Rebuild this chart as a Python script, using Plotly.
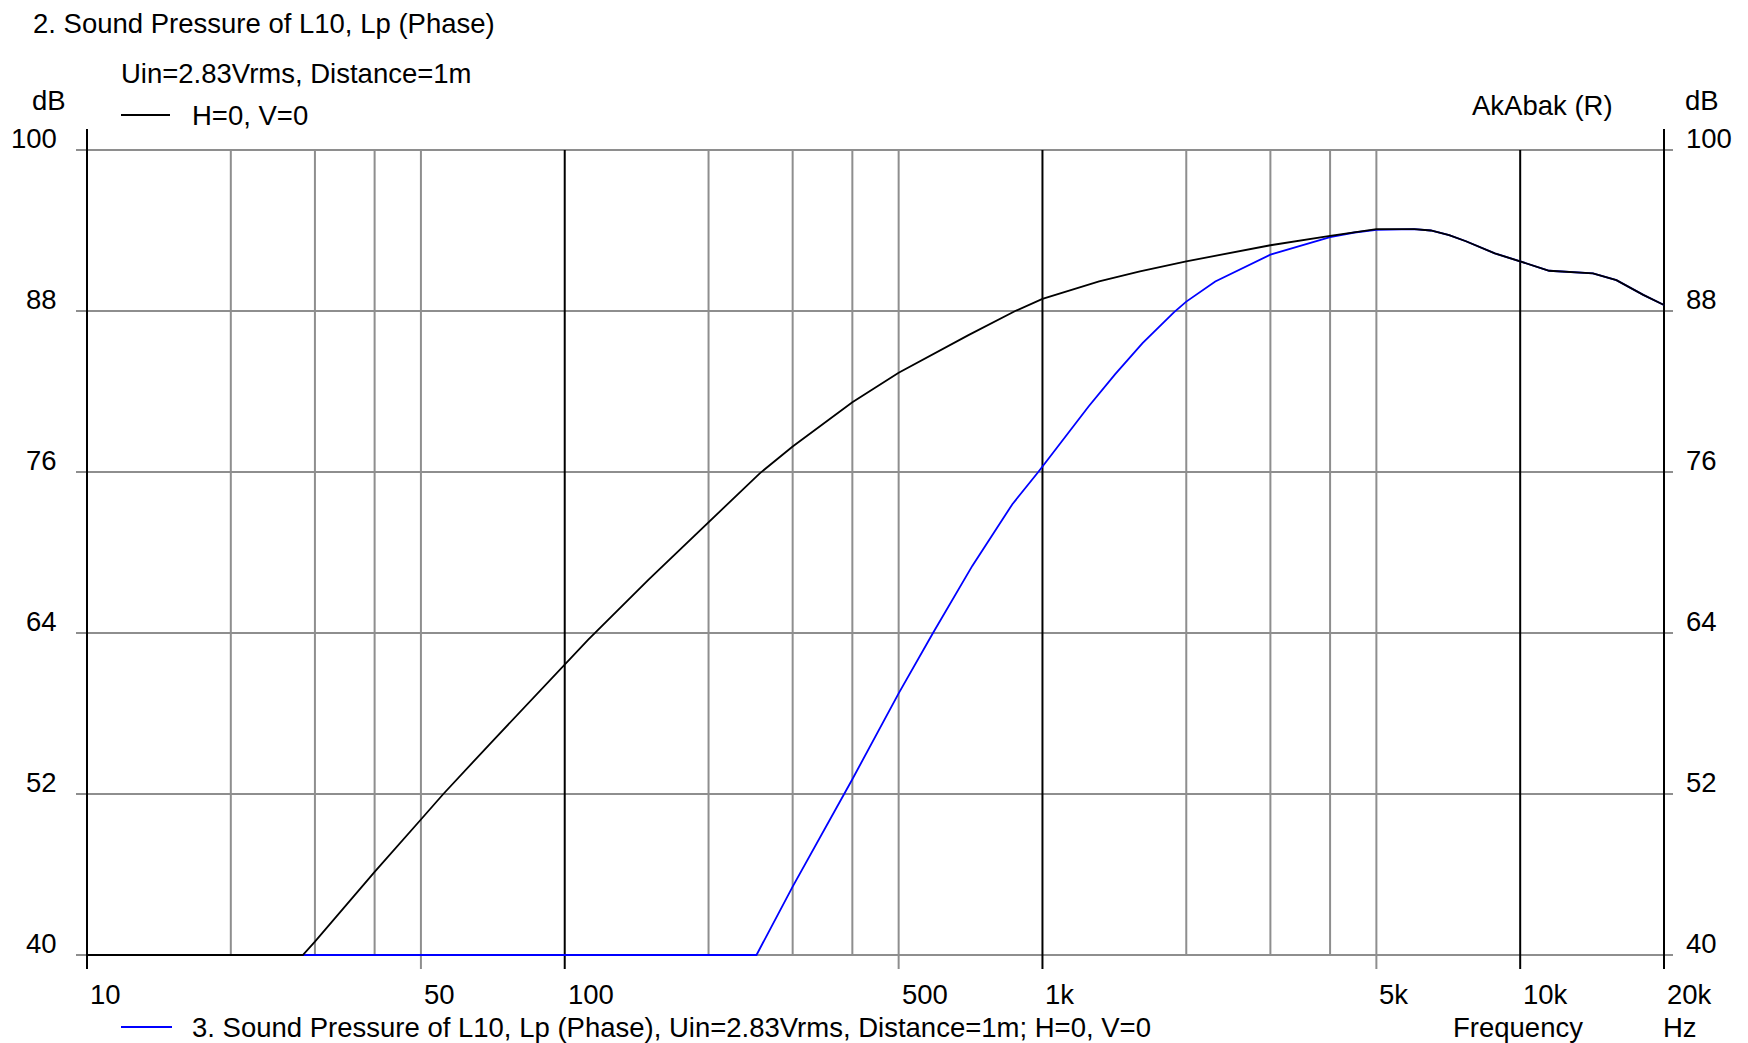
import numpy as np
import plotly.graph_objects as go

# ---- measured response, L10 (frequency in Hz, level in dB) ----
freq_black = [10, 28.3, 30, 40, 50, 55.7, 70, 100, 112, 150, 171.6, 200, 256, 300,
              400, 500, 700, 877, 1000, 1314, 1600, 2000, 3000, 4000, 5000, 6000,
              6500, 7100, 7700, 8850, 10000, 11500, 14200, 15900, 18100, 20000]
spl_black = [40, 40, 41.0, 46.2, 50.1, 52.0, 55.8, 61.6, 63.5, 68.0, 70.0, 72.3, 75.9, 77.9,
             81.2, 83.4, 86.2, 88.0, 88.9, 90.2, 90.95, 91.7, 92.9, 93.6, 94.1, 94.1,
             94.0, 93.65, 93.2, 92.3, 91.7, 91.0, 90.8, 90.3, 89.2, 88.45]

freq_blue = [10, 252, 300, 385, 400, 500, 590, 713, 865, 980, 1100, 1250, 1420, 1620,
             1884, 2000, 2300, 2720, 3000, 4000, 4500, 5000, 6000, 6500, 7100, 7700,
             8850, 10000, 11500, 14200, 15900, 18100, 20000]
spl_blue = [40, 40, 45.1, 52.0, 53.1, 59.5, 64.0, 69.0, 73.6, 76.0, 78.3, 80.9, 83.3, 85.6,
            87.9, 88.7, 90.2, 91.5, 92.2, 93.5, 93.85, 94.05, 94.1, 94.0, 93.65, 93.2,
            92.3, 91.7, 91.0, 90.8, 90.3, 89.2, 88.45]

# ---- axes ----
grid_freqs = [10, 20, 30, 40, 50, 100, 200, 300, 400, 500, 1000, 2000, 3000, 4000,
              5000, 10000, 20000]
decade_freqs = [10, 100, 1000, 10000, 20000]
tick_freqs = [10, 50, 100, 500, 1000, 5000, 10000, 20000]
tick_text = ["10", "50", "100", "500", "1k", "5k", "10k", "20k"]
db_ticks = [40, 52, 64, 76, 88, 100]

F_MIN, F_MAX = 10, 20000
DB_MIN, DB_MAX = 40, 100

W, H = 1748, 1043
# frame of the graph in pixels (10 Hz .. 20 kHz, 40 .. 100 dB)
FX0, FX1, FY0, FY1 = 87, 1664, 150, 955
PAD = 6  # breathing room so edge lines are not clipped

px_per_dec = (FX1 - FX0) / np.log10(F_MAX / F_MIN)
px_per_db = (FY1 - FY0) / (DB_MAX - DB_MIN)
xpad = PAD / px_per_dec
ypad = PAD / px_per_db

ML, MR = FX0 - PAD, W - FX1 - PAD
MT, MB = FY0 - PAD, H - FY1 - PAD
PW, PH = W - ML - MR, H - MT - MB


def xp(px):
    return (px - ML) / PW


def yp(py):
    return 1 - (py - MT) / PH


GRAY = "#8e8e8e"
BLACK = "#000000"
FONT = dict(family="Liberation Sans, Arial, sans-serif", size=27.5, color="#000000")

fig = go.Figure()
fig.add_trace(go.Scatter(x=freq_blue, y=spl_blue, mode="lines",
                         line=dict(color="#0000ff", width=1.8), showlegend=False))
fig.add_trace(go.Scatter(x=freq_black, y=spl_black, mode="lines",
                         line=dict(color=BLACK, width=1.8), showlegend=False))

shapes = []
# horizontal level lines, running a little past both side axes
for v in db_ticks:
    shapes.append(dict(type="line", layer="below", xref="paper", yref="y",
                       x0=xp(FX0 - 11), x1=xp(FX1 + 9), y0=v, y1=v,
                       line=dict(color=GRAY, width=2)))
# vertical frequency lines: grey ones first, decades in black on top
for f in sorted(grid_freqs, key=lambda f: f in decade_freqs):
    top = FY0 - 21 if f in (F_MIN, F_MAX) else FY0
    bottom = FY1 + 14 if f in tick_freqs else FY1
    shapes.append(dict(type="line", layer="below", xref="x", yref="paper",
                       x0=f, x1=f, y0=yp(bottom), y1=yp(top),
                       line=dict(color=BLACK if f in decade_freqs else GRAY, width=2)))
# legend samples
shapes.append(dict(type="line", xref="paper", yref="paper",
                   x0=xp(121), x1=xp(170), y0=yp(115), y1=yp(115),
                   line=dict(color=BLACK, width=2)))
shapes.append(dict(type="line", xref="paper", yref="paper",
                   x0=xp(121), x1=xp(172), y0=yp(1027), y1=yp(1027),
                   line=dict(color="#0000ff", width=2)))

ann = []


def label(text, x, y, xanchor="left", **kw):
    d = dict(text=text, x=x, y=y, xanchor=xanchor, yanchor="middle",
             showarrow=False, font=FONT)
    d.setdefault("xref", "paper")
    d.setdefault("yref", "paper")
    d.update(kw)
    ann.append(d)


label("2. Sound Pressure of L10, Lp (Phase)", xp(31), yp(23))
label("Uin=2.83Vrms, Distance=1m", xp(119), yp(74))
label("H=0, V=0", xp(190), yp(115))
label("dB", xp(30), yp(100))
label("dB", xp(1683), yp(100))
label("AkAbak (R)", xp(1470), yp(106))

for v in db_ticks:
    label(str(v), xp(59), v, xanchor="right", yref="y", yshift=12)
    label(str(v), xp(1684), v, yref="y", yshift=12)

for f, t in zip(tick_freqs, tick_text):
    label(t, np.log10(f), yp(994), xref="x", xshift=1)

label("3. Sound Pressure of L10, Lp (Phase), Uin=2.83Vrms, Distance=1m; H=0, V=0",
      xp(190), yp(1027))
label("Frequency", xp(1451), yp(1027))
label("Hz", xp(1661), yp(1027))

fig.update_layout(
    width=W, height=H,
    margin=dict(l=ML, r=MR, t=MT, b=MB, pad=0, autoexpand=False),
    paper_bgcolor="white", plot_bgcolor="white",
    shapes=shapes, annotations=ann,
    xaxis=dict(type="log", range=[np.log10(F_MIN) - xpad, np.log10(F_MAX) + xpad],
               visible=False, showgrid=False, zeroline=False),
    yaxis=dict(range=[DB_MIN - ypad, DB_MAX + ypad],
               visible=False, showgrid=False, zeroline=False),
    showlegend=False,
)

fig.write_html("out.html")
